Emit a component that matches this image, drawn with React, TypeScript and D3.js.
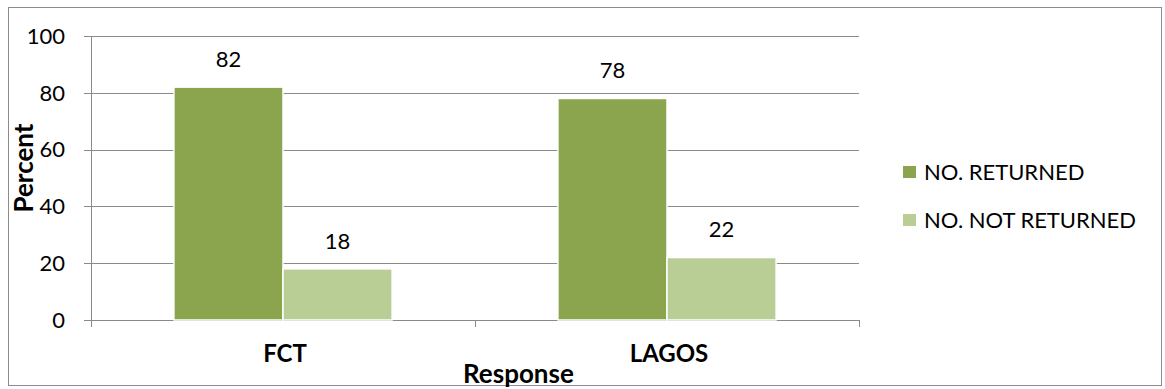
import * as d3 from 'd3';

const categories = ['FCT', 'LAGOS'];
const seriesNames = ['NO. RETURNED', 'NO. NOT RETURNED'];
const returned = [82, 78];
const notReturned = [18, 22];
const yTicks = [0, 20, 40, 60, 80, 100];

const colors = ['#8BA54F', '#B9CE95'];
const font = 'Lato, "Open Sans", sans-serif';

export default function App() {
  const width = 1165;
  const height = 389;
  const left = 91;
  const right = 859;
  const top = 36;
  const bottom = 320;

  const x = d3.scaleBand<string>().domain(categories).range([left, right]);
  const inner = d3.scaleBand<string>().domain(seriesNames).range([0, x.bandwidth()]).paddingOuter(0.76);
  const y = d3.scaleLinear().domain([0, 100]).range([bottom, top]);

  const series = [returned, notReturned];

  return (
    <svg width={width} height={height} style={{ position: 'absolute', left: 0, top: 0 }}>
      <rect x={8.5} y={7.5} width={1153} height={378} fill="#fff" stroke="#8c8c8c" strokeWidth={1} />
      {yTicks.map(t => (
        <g key={t}>
          <line x1={left - 7} x2={right} y1={Math.round(y(t)) + 0.5} y2={Math.round(y(t)) + 0.5} stroke="#8a8a8a" strokeWidth={1} />
          <text x={65} y={y(t)} dy="0.35em" textAnchor="end" fontFamily={font} fontSize={22} fill="#000">{t}</text>
        </g>
      ))}
      <line x1={left + 0.5} x2={left + 0.5} y1={top} y2={bottom + 7} stroke="#8a8a8a" />
      {[left, (left + right) / 2, right].map((v, i) => (
        <line key={i} x1={Math.round(v) + 0.5} x2={Math.round(v) + 0.5} y1={bottom} y2={bottom + 7} stroke="#8a8a8a" />
      ))}
      {series.map((vals, si) =>
        vals.map((v, ci) => {
          const bx = (x(categories[ci]) ?? 0) + (inner(seriesNames[si]) ?? 0);
          const bw = inner.bandwidth();
          return (
            <g key={`${si}-${ci}`}>
              <rect x={bx} y={y(v)} width={bw} height={bottom - y(v)} fill={colors[si]} stroke="#fff" strokeWidth={1.5} />
              <text x={bx + bw / 2} y={y(v) - 28} dy="0.35em" textAnchor="middle" fontFamily={font} fontSize={22} fill="#000">{v}</text>
            </g>
          );
        })
      )}
      {categories.map(c => (
        <text key={c} x={(x(c) ?? 0) + x.bandwidth() / 2 + 2} y={362} textAnchor="middle" fontFamily={font} fontWeight="bold" fontSize={24} fill="#000">{c}</text>
      ))}
      <text x={463} y={383} fontFamily={font} fontWeight="bold" fontSize={26} fill="#000">Response</text>
      <text transform={`translate(33,168) rotate(-90)`} textAnchor="middle" fontFamily={font} fontWeight="bold" fontSize={26} fill="#000">Percent</text>
      {seriesNames.map((s, i) => (
        <g key={s} transform={`translate(903,${172 + i * 48})`}>
          <rect x={0} y={-6} width={13} height={12} fill={colors[i]} />
          <text x={21} y={0} dy="0.35em" fontFamily={font} fontSize={22} fill="#000">{s}</text>
        </g>
      ))}
    </svg>
  );
}
